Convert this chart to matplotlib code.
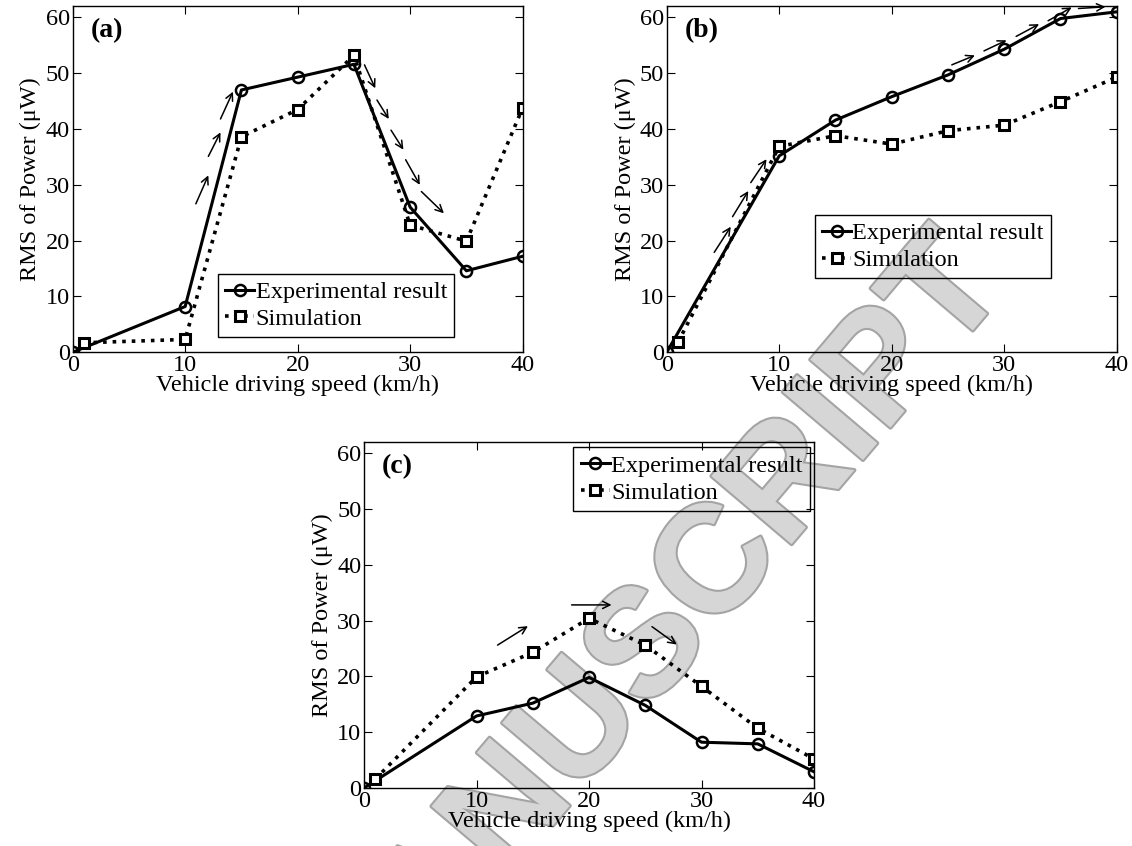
import matplotlib
matplotlib.use("Agg")
import matplotlib.pyplot as plt
import matplotlib.patheffects as pe

plt.rcParams['font.family'] = ['Liberation Serif', 'DejaVu Serif']

# speeds (km/h)
exp_speed = [0, 10, 15, 20, 25, 30, 35, 40]
sim_speed = [1, 10, 15, 20, 25, 30, 35, 40]

# RMS power (uW)
exp_a = [0, 8.2, 47.0, 49.3, 51.6, 26.0, 14.6, 17.2]
sim_a = [1.7, 2.3, 38.6, 43.5, 53.2, 22.8, 19.9, 43.8]
exp_b = [0, 35.2, 41.6, 45.8, 49.7, 54.3, 59.8, 61.0]
sim_b = [1.8, 36.9, 38.8, 37.3, 39.7, 40.7, 44.9, 49.3]
exp_c = [0, 12.9, 15.2, 19.8, 14.8, 8.2, 7.9, 2.9]
sim_c = [1.6, 19.9, 24.3, 30.4, 25.6, 18.2, 10.7, 5.2]

# trend arrows: (x0, y0, x1, y1)
arrows_a = [(10.95, 26.6, 12.06, 31.7), (12.06, 35.1, 13.14, 39.4),
            (13.14, 41.8, 14.25, 46.7),
            (25.94, 51.5, 26.9, 47.3), (27.05, 45.2, 28.1, 41.8),
            (28.3, 39.8, 29.4, 36.3), (29.6, 34.5, 30.86, 30.0),
            (31.0, 28.8, 33.0, 24.9)]
arrows_b = [(4.22, 17.9, 5.69, 22.5), (5.85, 24.3, 7.25, 28.9),
            (7.47, 30.4, 8.87, 34.6),
            (25.34, 51.5, 27.39, 53.2), (28.2, 54.0, 30.2, 55.9),
            (31.06, 56.6, 33.1, 58.8), (33.9, 59.4, 36.0, 61.8),
            (36.6, 61.6, 39.0, 61.9)]
arrows_c = [(11.87, 25.6, 14.57, 29.0), (18.45, 32.8, 22.0, 32.8),
            (25.6, 28.9, 27.8, 25.7)]

panels = [
    ("(a)", exp_a, sim_a, arrows_a, [0.0642, 0.5836, 0.3975, 0.409], (0.323, 0.227)),
    ("(b)", exp_b, sim_b, arrows_b, [0.589, 0.5836, 0.3975, 0.409], (0.329, 0.397)),
    ("(c)", exp_c, sim_c, arrows_c, [0.3216, 0.0686, 0.3975, 0.409], (0.465, 0.984)),
]

fig = plt.figure(figsize=(11.32, 8.46), dpi=100)

# background watermark
fig.text(0.575, 0.232, "MANUSCRIPT", rotation=49.7, ha='center', va='center',
         fontsize=110, fontweight='bold', family='Liberation Sans',
         color='#d6d6d6', zorder=-5,
         path_effects=[pe.withStroke(linewidth=3, foreground='#a4a4a4')])

fs = 17.5
for tag, ye, ys, arrs, pos, leg_xy in panels:
    ax = fig.add_axes(pos)
    ax.set_facecolor('none')
    ax.plot(exp_speed, ye, '-', color='black', lw=2.2, marker='o', ms=8,
            mfc='none', mew=1.8, label='Experimental result')
    ax.plot(sim_speed, ys, ':', color='black', lw=2.6, marker='s', ms=6.5,
            mfc='white', mew=2.2, label='Simulation')
    for x0, y0, x1, y1 in arrs:
        ax.annotate('', xy=(x1, y1), xytext=(x0, y0),
                    arrowprops=dict(arrowstyle='->', lw=1.1, color='black',
                                    mutation_scale=13, shrinkA=0, shrinkB=0),
                    annotation_clip=False)
    ax.set_xlim(0, 40)
    ax.set_ylim(0, 62)
    ax.set_xticks([0, 10, 20, 30, 40])
    ax.set_yticks([0, 10, 20, 30, 40, 50, 60])
    ax.tick_params(direction='in', length=6, width=0.8, top=True, right=True,
                   labelsize=fs, pad=2)
    for s in ax.spines.values():
        s.set_linewidth(1.0)
    ax.set_xlabel("Vehicle driving speed (km/h)", fontsize=fs, labelpad=-1)
    ax.set_ylabel("RMS of Power (\u03bcW)", fontsize=fs, labelpad=3)
    ax.text(0.04, 0.93, tag, transform=ax.transAxes, fontsize=20,
            fontweight='bold', ha='left', va='center')
    leg = ax.legend(loc='upper left', bbox_to_anchor=leg_xy, borderaxespad=0,
                    fontsize=fs, handlelength=1.2, handletextpad=0.05,
                    borderpad=0.3, labelspacing=0.2, numpoints=1,
                    fancybox=False, framealpha=1, facecolor='none',
                    edgecolor='black')
    leg.get_frame().set_linewidth(1.0)

fig.savefig("out.png", dpi=100)
